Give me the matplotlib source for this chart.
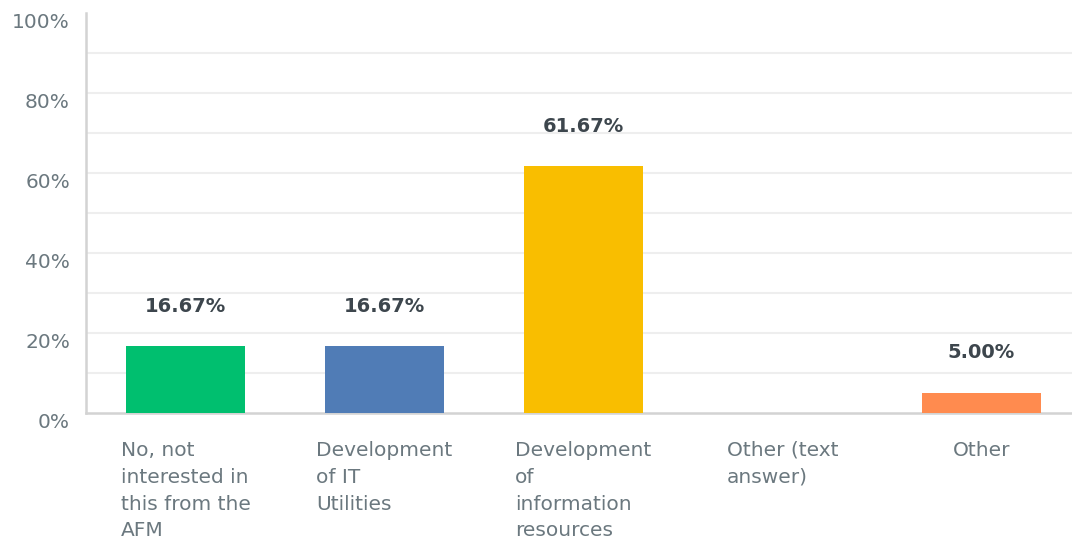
import matplotlib
matplotlib.use("Agg")
from matplotlib import pyplot as plt
from matplotlib import transforms
import numpy as np

categories = ["No, not\ninterested in\nthis from the\nAFM",
              "Development\nof IT\nUtilities",
              "Development\nof\ninformation\nresources",
              "Other (text\nanswer)",
              "Other"]
values = [16.67, 16.67, 61.67, 0.0, 5.00]
bar_colors = ["#00bf6f", "#507cb6", "#f9be00", "#6bc8cd", "#ff8b4f"]
y_ticks = [0, 20, 40, 60, 80, 100]

plt.rcParams['font.family'] = ['DejaVu Sans']

fig = plt.figure(figsize=(10.72, 5.46), dpi=100)
ax = fig.add_axes([86/1072, 133/546, 986/1072, 400/546])

x = np.arange(len(categories))
ax.bar(x, values, width=0.603, color=bar_colors, zorder=3)

ax.set_xlim(-0.5, -0.5 + 986/199)
ax.set_ylim(0, 100)

# light gridlines every 10% (none on top edge)
for g in range(10, 100, 10):
    ax.axhline(g, color='#eeeeee', lw=1.5, zorder=1)

for s in ['top', 'right']:
    ax.spines[s].set_visible(False)
for s in ['left', 'bottom']:
    ax.spines[s].set_color('#d3d3d3')
    ax.spines[s].set_linewidth(1.8)

ax.set_xticks([])
ax.set_yticks([])

# y labels sit a bit below their gridline
trans_y = transforms.blended_transform_factory(ax.transAxes, ax.transData)
off = transforms.ScaledTranslation(-16/100, -10/100, fig.dpi_scale_trans)
for t in y_ticks:
    ax.text(0, t, f"{t}%", transform=trans_y + off, ha='right', va='center',
            fontsize=14.5, color='#6b787f')

# category labels under bars
off_x = transforms.ScaledTranslation(0, -28/100, fig.dpi_scale_trans)
trans_x = transforms.blended_transform_factory(ax.transData, ax.transAxes)
for xi, lab in zip(x, categories):
    ax.text(xi, 0, lab, transform=trans_x + off_x, ha='center', va='top',
            multialignment='left', fontsize=14.5, color='#6b787f', linespacing=1.52)

# value labels above bars
off_v = transforms.ScaledTranslation(0, 40/100, fig.dpi_scale_trans)
for xi, v in zip(x, values):
    if v > 0:
        ax.text(xi, v, f"{v:.2f}%", transform=ax.transData + off_v,
                ha='center', va='center', fontsize=14, fontweight='bold',
                color='#3d464d')

fig.savefig("out.png", dpi=100)
